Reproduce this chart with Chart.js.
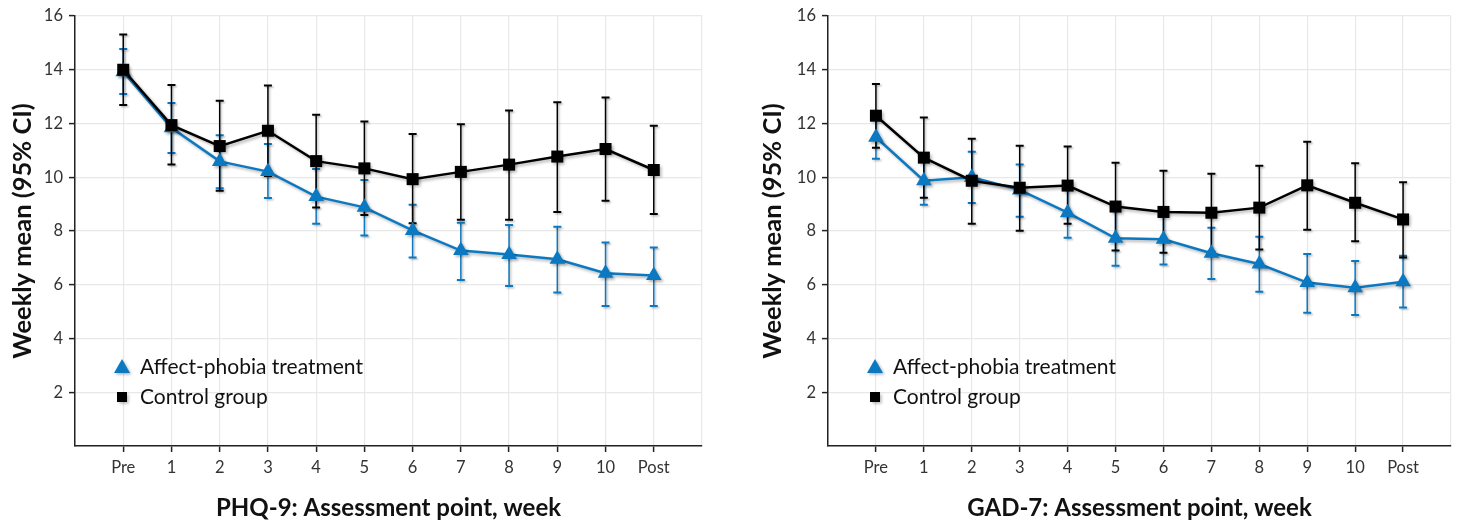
<!DOCTYPE html>
<html>
<head>
<meta charset="utf-8">
<script src="https://cdn.jsdelivr.net/npm/chart.js@4"></script>
<style>
  body { margin: 0; background: #fff; }
  .wrap { display: flex; width: 1460px; height: 523px; }
  canvas { display: block; }
</style>
</head>
<body>
<div class="wrap">
  <canvas id="phqChart" width="730" height="523"></canvas>
  <canvas id="gadChart" width="730" height="523"></canvas>
</div>
<script>
const weeks = ['Pre', '1', '2', '3', '4', '5', '6', '7', '8', '9', '10', 'Post'];
const yTicks = [2, 4, 6, 8, 10, 12, 14, 16];
const seriesNames = ['Affect-phobia treatment', 'Control group'];

// PHQ-9
const phqTreatMean = [13.93, 11.84, 10.59, 10.21, 9.28, 8.88, 8.02, 7.27, 7.13, 6.95, 6.43, 6.34];
const phqTreatLow  = [13.10, 10.90, 9.59, 9.23, 8.27, 7.83, 7.01, 6.18, 5.95, 5.71, 5.21, 5.21];
const phqTreatHigh = [14.77, 12.76, 11.56, 11.24, 10.31, 9.90, 8.98, 8.31, 8.22, 8.16, 7.57, 7.39];
const phqCtrlMean  = [14.00, 11.94, 11.16, 11.73, 10.60, 10.33, 9.93, 10.20, 10.47, 10.77, 11.05, 10.27];
const phqCtrlLow   = [12.69, 10.47, 9.50, 10.05, 8.87, 8.60, 8.29, 8.42, 8.42, 8.71, 9.13, 8.63];
const phqCtrlHigh  = [15.31, 13.43, 12.85, 13.41, 12.33, 12.07, 11.61, 11.97, 12.48, 12.79, 12.97, 11.92];

// GAD-7
const gadTreatMean = [11.49, 9.87, 10.00, 9.53, 8.68, 7.73, 7.69, 7.17, 6.77, 6.08, 5.89, 6.11];
const gadTreatLow  = [10.69, 8.98, 9.04, 8.53, 7.75, 6.71, 6.75, 6.21, 5.74, 4.96, 4.87, 5.15];
const gadTreatHigh = [12.29, 10.76, 10.95, 10.47, 9.61, 8.75, 8.63, 8.12, 7.79, 7.14, 6.88, 7.08];
const gadCtrlMean  = [12.29, 10.73, 9.87, 9.61, 9.69, 8.91, 8.71, 8.68, 8.87, 9.70, 9.05, 8.43];
const gadCtrlLow   = [11.10, 9.24, 8.27, 8.01, 8.27, 7.27, 7.19, 7.23, 7.31, 8.05, 7.62, 7.01];
const gadCtrlHigh  = [13.47, 12.22, 11.43, 11.17, 11.14, 10.54, 10.24, 10.13, 10.43, 11.32, 10.52, 9.81];

const BLUE = '#0b79c2';
const BLACK = '#000000';
const FONT = 'Lato, "Open Sans", sans-serif';

function toPoints(mean, low, high) {
  return mean.map((v, i) => ({ x: i, y: v, lo: low[i], hi: high[i] }));
}

// error bars with small caps, drawn under the lines
const errorBars = {
  id: 'errorBars',
  beforeDatasetsDraw(chart) {
    const { ctx, scales: { x, y } } = chart;
    ctx.save();
    ctx.shadowColor = 'rgba(0,0,0,0.25)';
    ctx.shadowBlur = 2;
    ctx.shadowOffsetX = 1.5;
    ctx.shadowOffsetY = 1.5;
    for (let d = chart.data.datasets.length - 1; d >= 0; d--) {
      const ds = chart.data.datasets[d];
      ctx.strokeStyle = ds.borderColor;
      ds.data.forEach(p => {
        const px = x.getPixelForValue(p.x);
        const top = y.getPixelForValue(p.hi);
        const bot = y.getPixelForValue(p.lo);
        ctx.lineWidth = 1.5;
        ctx.beginPath();
        ctx.moveTo(px, top);
        ctx.lineTo(px, bot);
        ctx.stroke();
        ctx.lineWidth = 2;
        ctx.beginPath();
        ctx.moveTo(px - 4, top); ctx.lineTo(px + 4, top);
        ctx.moveTo(px - 4, bot); ctx.lineTo(px + 4, bot);
        ctx.stroke();
      });
    }
    ctx.restore();
  }
};

const softShadow = {
  id: 'softShadow',
  beforeDatasetDraw(chart) {
    const ctx = chart.ctx;
    ctx.save();
    ctx.shadowColor = 'rgba(0,0,0,0.3)';
    ctx.shadowBlur = 3;
    ctx.shadowOffsetX = 2;
    ctx.shadowOffsetY = 2;
  },
  afterDatasetDraw(chart) {
    chart.ctx.restore();
  }
};

// legend inside the plot, lower left
const insideLegend = {
  id: 'insideLegend',
  afterDraw(chart) {
    const { ctx, chartArea } = chart;
    const mx = chartArea.left + 47;
    const rows = [
      { name: seriesNames[0], color: BLUE, shape: 'triangle', y: 367 },
      { name: seriesNames[1], color: BLACK, shape: 'rect', y: 397 }
    ];
    ctx.save();
    rows.forEach(r => {
      ctx.save();
      ctx.shadowColor = 'rgba(0,0,0,0.3)';
      ctx.shadowBlur = 3;
      ctx.shadowOffsetX = 1.5;
      ctx.shadowOffsetY = 1.5;
      ctx.fillStyle = r.color;
      ctx.beginPath();
      if (r.shape === 'triangle') {
        ctx.moveTo(mx, r.y - 8);
        ctx.lineTo(mx + 8, r.y + 6);
        ctx.lineTo(mx - 8, r.y + 6);
        ctx.closePath();
        ctx.fill();
      } else {
        ctx.fillRect(mx - 5, r.y - 5, 10, 10);
      }
      ctx.restore();
      ctx.fillStyle = '#111';
      ctx.font = '21px ' + FONT;
      ctx.textBaseline = 'middle';
      ctx.fillText(r.name, mx + 18, r.y);
    });
    ctx.restore();
  }
};

function makeChart(id, title, treat, ctrl, padLeft, padRight, yWidth) {
  return new Chart(document.getElementById(id), {
    type: 'line',
    data: {
      datasets: [
        {
          label: seriesNames[1],
          data: ctrl,
          borderColor: BLACK,
          backgroundColor: BLACK,
          borderWidth: 2.5,
          pointStyle: 'rect',
          pointRadius: 8.5,
          pointBorderWidth: 0,
          tension: 0
        },
        {
          label: seriesNames[0],
          data: treat,
          borderColor: BLUE,
          backgroundColor: BLUE,
          borderWidth: 2.5,
          pointStyle: 'triangle',
          pointRadius: 9,
          pointBorderWidth: 0,
          tension: 0
        }
      ]
    },
    options: {
      responsive: false,
      animation: false,
      layout: { padding: { top: 16, left: padLeft, right: padRight, bottom: 0 } },
      plugins: { legend: { display: false }, tooltip: { enabled: false } },
      scales: {
        x: {
          type: 'linear',
          min: -1,
          max: 12,
          afterBuildTicks: axis => {
            axis.ticks = [];
            for (let i = -1; i <= 12; i++) axis.ticks.push({ value: i });
          },
          afterFit: axis => { axis.height = 77; },
          ticks: {
            autoSkip: false,
            maxRotation: 0,
            padding: 6,
            color: '#333',
            font: { family: FONT, size: 16.5 },
            callback: v => weeks[v] !== undefined ? weeks[v] : ''
          },
          grid: {
            color: '#e8e8e8',
            lineWidth: 1.2,
            tickLength: 6,
            tickColor: c => (c.tick && weeks[c.tick.value] !== undefined) ? '#222' : 'rgba(0,0,0,0)',
            tickWidth: 1.5
          },
          border: { color: '#222', width: 1.5 },
          title: {
            display: true,
            text: title,
            color: '#111',
            font: { family: FONT, size: 24, weight: 'bold', lineHeight: 1.2 },
            padding: { top: 4, bottom: 0 }
          }
        },
        y: {
          min: 0,
          max: 16,
          afterBuildTicks: axis => {
            axis.ticks = [{ value: 0 }].concat(yTicks.map(v => ({ value: v })));
          },
          afterFit: axis => { axis.width = yWidth; },
          ticks: {
            padding: 6,
            color: '#333',
            font: { family: FONT, size: 16.5 },
            callback: v => v === 0 ? '' : v
          },
          grid: {
            color: '#e8e8e8',
            lineWidth: 1.2,
            tickLength: 6,
            tickColor: c => (c.tick && c.tick.value === 0) ? 'rgba(0,0,0,0)' : '#222',
            tickWidth: 1.5
          },
          border: { color: '#222', width: 1.5 },
          title: {
            display: true,
            text: 'Weekly mean (95% CI)',
            color: '#111',
            font: { family: FONT, size: 25.5, weight: 'bold', lineHeight: 1.2 },
            padding: { top: 7, bottom: 0 }
          }
        }
      }
    },
    plugins: [errorBars, softShadow, insideLegend]
  });
}

makeChart('phqChart', 'PHQ-9: Assessment point, week',
  toPoints(phqTreatMean, phqTreatLow, phqTreatHigh),
  toPoints(phqCtrlMean, phqCtrlLow, phqCtrlHigh), 0, 28, 75);

makeChart('gadChart', 'GAD-7: Assessment point, week',
  toPoints(gadTreatMean, gadTreatLow, gadTreatHigh),
  toPoints(gadCtrlMean, gadCtrlLow, gadCtrlHigh), 20, 6, 78);
</script>
</body>
</html>
